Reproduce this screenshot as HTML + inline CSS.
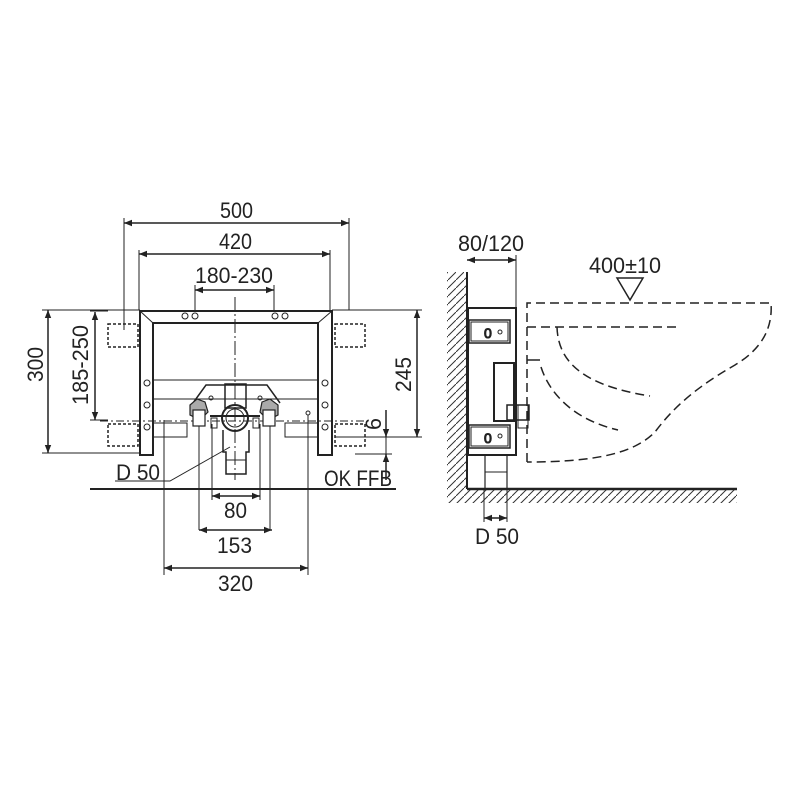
<!DOCTYPE html>
<html><head><meta charset="utf-8"><style>
html,body{margin:0;padding:0;background:#fff}
svg{display:block}
text{font-family:"Liberation Sans Narrow","Liberation Sans",sans-serif;font-size:22px;fill:#222}
</style></head><body>
<svg width="800" height="800" viewBox="0 0 800 800" xmlns="http://www.w3.org/2000/svg">
<defs>
<marker id="a" viewBox="0 0 10 10" refX="10" refY="5" markerWidth="8" markerHeight="8" orient="auto-start-reverse" markerUnits="userSpaceOnUse"><path d="M0,1 L10,5 L0,9 z" fill="#222"/></marker>
<pattern id="h" width="8" height="8" patternUnits="userSpaceOnUse"><path d="M-2,10 L10,-2" stroke="#333" stroke-width="1"/></pattern>
</defs>
<g stroke="#222" fill="none" stroke-width="1">
<line x1="124" y1="218" x2="124" y2="310"/><line x1="349" y1="218" x2="349" y2="310"/>
<line x1="139" y1="250" x2="139" y2="310"/><line x1="330" y1="250" x2="330" y2="310"/>
<line x1="195" y1="285" x2="195" y2="310"/><line x1="274" y1="285" x2="274" y2="310"/>
<line x1="124" y1="223" x2="349" y2="223" stroke-width="1.5" marker-start="url(#a)" marker-end="url(#a)"/>
<line x1="139" y1="254" x2="330" y2="254" stroke-width="1.5" marker-start="url(#a)" marker-end="url(#a)"/>
<line x1="195" y1="290" x2="274" y2="290" stroke-width="1.5" marker-start="url(#a)" marker-end="url(#a)"/>
<line x1="42" y1="310" x2="140" y2="310"/><line x1="42" y1="453" x2="140" y2="453"/>
<line x1="48" y1="310" x2="48" y2="453" stroke-width="1.5" marker-start="url(#a)" marker-end="url(#a)"/>
<line x1="90" y1="311" x2="108" y2="311"/><line x1="90" y1="420" x2="108" y2="420"/>
<line x1="95" y1="312" x2="95" y2="420" stroke-width="1.5" marker-start="url(#a)" marker-end="url(#a)"/>
<line x1="124" y1="300" x2="124" y2="330"/>
<line x1="332" y1="310" x2="422" y2="310"/><line x1="335" y1="437" x2="422" y2="437"/>
<line x1="355" y1="454" x2="392" y2="454"/>
<line x1="417" y1="310" x2="417" y2="437" stroke-width="1.5" marker-start="url(#a)" marker-end="url(#a)"/>
<line x1="386" y1="410" x2="386" y2="437" stroke-width="1.5" marker-end="url(#a)"/>
<line x1="386" y1="480" x2="386" y2="454" stroke-width="1.5" marker-end="url(#a)"/>
<line x1="386" y1="437" x2="386" y2="454"/>
<path d="M140,311 L332,311 L332,455 L318,455 L318,323 L153,323 L153,455 L140,455 Z" stroke-width="2"/>
<line x1="140" y1="311" x2="153" y2="323"/><line x1="332" y1="311" x2="318" y2="323"/>
<line x1="153" y1="380" x2="318" y2="380"/><line x1="153" y1="399" x2="318" y2="399"/>
<circle cx="185" cy="316" r="3"/><circle cx="195" cy="316" r="3"/><circle cx="275" cy="316" r="3"/><circle cx="285" cy="316" r="3"/>
<circle cx="147" cy="383" r="3"/><circle cx="147" cy="405" r="3"/><circle cx="147" cy="427" r="3"/>
<circle cx="325" cy="383" r="3"/><circle cx="325" cy="405" r="3"/><circle cx="325" cy="427" r="3"/>
<g stroke-dasharray="3,2" stroke-width="1.5">
<rect x="108" y="324" width="30" height="23"/><rect x="108" y="424" width="30" height="22"/>
<rect x="335" y="324" width="30" height="23"/><rect x="335" y="424" width="30" height="22"/>
</g>
<line x1="235" y1="297" x2="235" y2="480" stroke-dasharray="14,3,2,3"/>
<line x1="100" y1="421" x2="365" y2="421" stroke-dasharray="8,3,2,3"/>
<path d="M153,423 L187,423 L187,437 L153,437"/><path d="M318,423 L285,423 L285,437 L318,437"/>
<path d="M193,403 L206,385 L267,385 L280,403" stroke-width="1.5"/>
<rect x="225" y="384" width="21" height="24" stroke-width="1.5"/>
<circle cx="235" cy="418" r="13" stroke-width="2"/><circle cx="235" cy="418" r="9"/>
<path d="M223,430 L223,452 L226,452 L226,474 L246,474 L246,452 L249,452 L249,430" stroke-width="1.5"/>
<line x1="226" y1="460" x2="246" y2="460"/>
<line x1="210" y1="416" x2="260" y2="416" stroke-width="2"/>
<g fill="#aaa" stroke-width="1.2">
<path d="M190,405 L197,399 L205,402 L208,412 L200,420 L190,415 Z"/>
<path d="M262,402 L270,399 L278,405 L278,415 L268,420 L260,412 Z"/>
</g>
<rect x="193" y="410" width="12" height="16" fill="#fff" stroke-width="1.2"/>
<rect x="263" y="410" width="12" height="16" fill="#fff" stroke-width="1.2"/>
<rect x="211" y="418" width="6" height="10"/><rect x="253" y="418" width="6" height="10"/>
<circle cx="211" cy="398" r="2"/><circle cx="260" cy="398" r="2"/><circle cx="308" cy="413" r="2"/>
<line x1="199" y1="426" x2="199" y2="530"/><line x1="270" y1="426" x2="270" y2="530"/>
<line x1="212" y1="424" x2="212" y2="500"/><line x1="260" y1="424" x2="260" y2="500"/>
<line x1="164" y1="420" x2="164" y2="575"/><line x1="308" y1="415" x2="308" y2="575"/>
<path d="M115,481 L170,481 L230,447"/>
<line x1="90" y1="489" x2="396" y2="489" stroke-width="2"/>
<line x1="212" y1="496" x2="260" y2="496" stroke-width="1.5" marker-start="url(#a)" marker-end="url(#a)"/>
<line x1="199" y1="530" x2="272" y2="530" stroke-width="1.5" marker-start="url(#a)" marker-end="url(#a)"/>
<line x1="164" y1="568" x2="308" y2="568" stroke-width="1.5" marker-start="url(#a)" marker-end="url(#a)"/>

<rect x="447" y="272" width="20" height="217" fill="url(#h)" stroke="none"/>
<rect x="447" y="489" width="290" height="14" fill="url(#h)" stroke="none"/>
<line x1="467" y1="272" x2="467" y2="489" stroke-width="2"/>
<line x1="467" y1="489" x2="737" y2="489" stroke-width="2.5"/>
<line x1="516" y1="255" x2="516" y2="308"/>
<line x1="467" y1="260" x2="516" y2="260" stroke-width="1.5" marker-start="url(#a)" marker-end="url(#a)"/>
<path d="M617,278 L643,278 L630,300 Z" stroke-width="1.5"/>
<rect x="468" y="308" width="48" height="147" stroke-width="2"/>
<rect x="469" y="320" width="41" height="23" stroke-width="1.5"/><rect x="471" y="322" width="37" height="19"/>
<rect x="469" y="425" width="41" height="23" stroke-width="1.5"/><rect x="471" y="427" width="37" height="19"/>
<text x="484" y="338" style="font-size:14px">0</text><circle cx="500" cy="332" r="2"/>
<text x="484" y="443" style="font-size:14px">0</text><circle cx="500" cy="436" r="2"/>
<rect x="494" y="363" width="20" height="58" stroke-width="2"/>
<rect x="507" y="405" width="22" height="15" stroke-width="1.5"/><rect x="518" y="405" width="10" height="23"/>
<rect x="485" y="455" width="22" height="34" stroke-width="1.2"/><line x1="485" y1="472" x2="507" y2="472"/>
<line x1="484" y1="489" x2="484" y2="522"/><line x1="507" y1="489" x2="507" y2="522"/>
<line x1="484" y1="518" x2="507" y2="518" stroke-width="1.5" marker-start="url(#a)" marker-end="url(#a)"/>
<g stroke-dasharray="9,5" stroke-width="1.5">
<path d="M527,462 L527,303 L771,303 C773,330 760,350 735,365 C700,385 675,405 655,432 C635,452 600,462 527,462"/>
<line x1="527" y1="327" x2="677" y2="327"/>
<path d="M557,327 C558,360 580,385 650,396"/>
<path d="M541,367 C550,395 575,420 618,430"/>
</g>
<line x1="527" y1="360" x2="540" y2="360" stroke-width="1.5"/>
</g>
<g>
<text x="220" y="218" textLength="33" lengthAdjust="spacingAndGlyphs">500</text>
<text x="219" y="249" textLength="33" lengthAdjust="spacingAndGlyphs">420</text>
<text x="195" y="283" textLength="78" lengthAdjust="spacingAndGlyphs">180-230</text>
<text transform="translate(43,382) rotate(-90)" textLength="35" lengthAdjust="spacingAndGlyphs">300</text>
<text transform="translate(88,405) rotate(-90)" textLength="80" lengthAdjust="spacingAndGlyphs">185-250</text>
<text transform="translate(411,392) rotate(-90)" textLength="35" lengthAdjust="spacingAndGlyphs">245</text>
<text transform="translate(381,430) rotate(-90)" textLength="12" lengthAdjust="spacingAndGlyphs">6</text>
<text x="116" y="480" textLength="44" lengthAdjust="spacingAndGlyphs">D 50</text>
<text x="324" y="486" textLength="68" lengthAdjust="spacingAndGlyphs">OK FFB</text>
<text x="224" y="518" textLength="23" lengthAdjust="spacingAndGlyphs">80</text>
<text x="217" y="553" textLength="35" lengthAdjust="spacingAndGlyphs">153</text>
<text x="218" y="591" textLength="35" lengthAdjust="spacingAndGlyphs">320</text>
<text x="458" y="251" textLength="66" lengthAdjust="spacingAndGlyphs">80/120</text>
<text x="589" y="273" textLength="72" lengthAdjust="spacingAndGlyphs">400±10</text>
<text x="475" y="544" textLength="44" lengthAdjust="spacingAndGlyphs">D 50</text>
</g>
</svg>
</body></html>
